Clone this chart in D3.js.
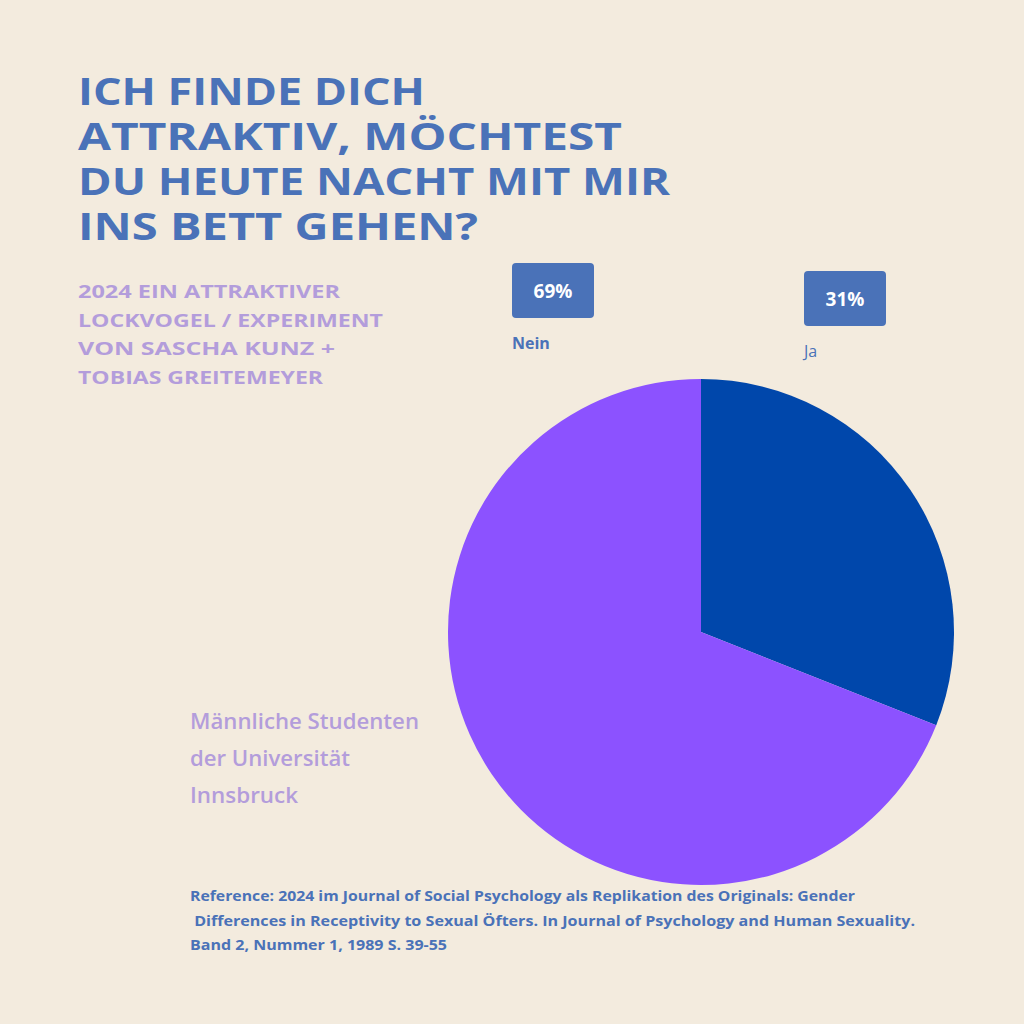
<!DOCTYPE html>
<html><head><meta charset="utf-8">
<script src="https://cdn.jsdelivr.net/npm/d3@7"></script>
<style>body{margin:0;background:#f3ebde}</style></head>
<body><svg id="c" width="1024" height="1024"></svg>
<script>
const categories = ["Ja", "Nein"];
const values = [31, 69];
const valueLabels = ["31%", "69%"];
const colors = ["#0047ab", "#8c52ff"];
const titleLines = ["ICH FINDE DICH", "ATTRAKTIV, MÖCHTEST", "DU HEUTE NACHT MIT MIR", "INS BETT GEHEN?"];
const subLines = ["2024 EIN ATTRAKTIVER", "LOCKVOGEL / EXPERIMENT", "VON SASCHA KUNZ +", "TOBIAS GREITEMEYER"];
const groupLines = ["Männliche Studenten", "der Universität", "Innsbruck"];
const refLines = ["Reference: 2024 im Journal of Social Psychology als Replikation des Originals: Gender",
  " Differences in Receptivity to Sexual Öfters. In Journal of Psychology and Human Sexuality.",
  "Band 2, Nummer 1, 1989 S. 39-55"];
const titleW = [347, 544, 592, 400];
const subW = [262, 305, 257, 245];
const groupW = [229, 160, 108];
const refW = [665, 725, 257];

const svg = d3.select("#c");
svg.append("rect").attr("width",1024).attr("height",1024).attr("fill","#f3ebde");

const tc = "#4a72b8";
svg.append("g").selectAll("text").data(titleLines).join("text")
  .attr("x",78).attr("y",(d,i)=>105+i*45).text(d=>d)
  .attr("font-family","Open Sans").attr("font-weight",700).attr("font-size",37)
  .attr("fill",tc).attr("textLength",(d,i)=>titleW[i]).attr("lengthAdjust","spacingAndGlyphs");
svg.append("g").selectAll("text").data(subLines).join("text")
  .attr("x",78).attr("y",(d,i)=>298+i*28.5).text(d=>d)
  .attr("font-family","Open Sans").attr("font-weight",700).attr("font-size",17.5)
  .attr("fill","#b39ddb").attr("textLength",(d,i)=>subW[i]).attr("lengthAdjust","spacingAndGlyphs");
svg.append("g").selectAll("text").data(groupLines).join("text")
  .attr("x",190).attr("y",(d,i)=>729+i*37).text(d=>d)
  .attr("font-family","Open Sans").attr("font-weight",600).attr("font-size",21)
  .attr("fill","#b39ddb").attr("textLength",(d,i)=>groupW[i]).attr("lengthAdjust","spacingAndGlyphs");
svg.append("g").selectAll("text").data(refLines).join("text")
  .attr("x",190).attr("y",(d,i)=>901+i*24.5).text(d=>d)
  .style("white-space","pre")
  .attr("font-family","Open Sans").attr("font-weight",700).attr("font-size",14.5)
  .attr("fill",tc).attr("textLength",(d,i)=>refW[i]).attr("lengthAdjust","spacingAndGlyphs");

const cx=701, cy=632, r=253;
const pie = d3.pie().sort(null).value(d=>d);
const arc = d3.arc().innerRadius(0).outerRadius(r);
svg.append("g").attr("transform",`translate(${cx},${cy})`)
  .selectAll("path").data(pie(values)).join("path")
  .attr("d",arc).attr("fill",(d,i)=>colors[i]);

const lab = [
  {x:804,y:271,cat:categories[0],v:valueLabels[0],w:400},
  {x:512,y:263,cat:categories[1],v:valueLabels[1],w:700}
];
const g = svg.append("g");
lab.forEach(l=>{
  g.append("rect").attr("x",l.x).attr("y",l.y).attr("width",82).attr("height",55).attr("rx",4).attr("fill",tc);
  g.append("text").attr("x",l.x+41).attr("y",l.y+35).attr("text-anchor","middle").text(l.v)
    .attr("font-family","Open Sans").attr("font-weight",700).attr("font-size",19).attr("fill","#fff");
  g.append("text").attr("x",l.x).attr("y",l.y+86).text(l.cat)
    .attr("font-family","Open Sans").attr("font-weight",l.w).attr("font-size",16).attr("fill",tc);
});
</script></body></html>
